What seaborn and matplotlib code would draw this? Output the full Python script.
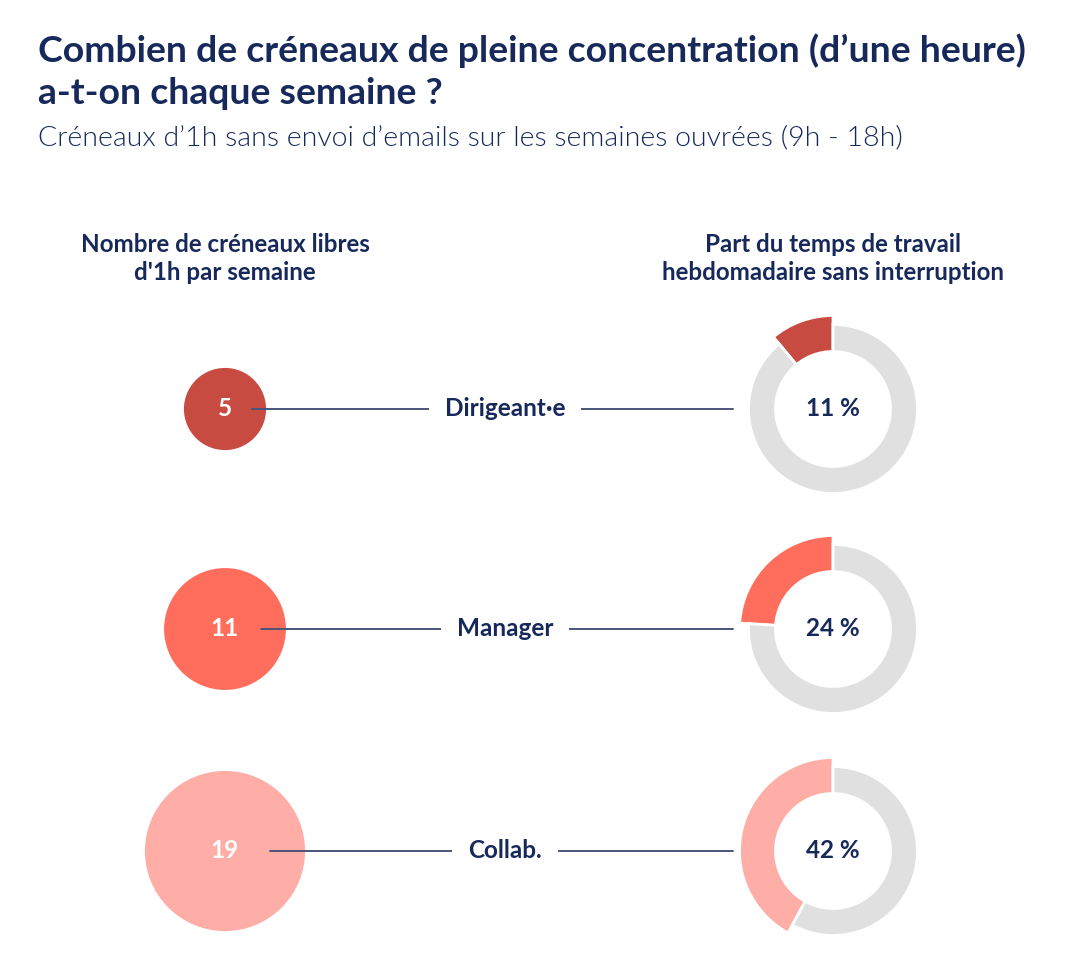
import numpy as np
import pandas as pd
import matplotlib
matplotlib.use("Agg")
import matplotlib.pyplot as plt
from matplotlib import font_manager as fm
import seaborn as sns

# data
roles = ["Dirigeant·e", "Manager", "Collab."]
slots = [5, 11, 19]          # créneaux libres d'1h par semaine
share = [11, 24, 42]         # % du temps de travail sans interruption
palette = ["#C84B42", "#FF6E5D", "#FFAEA7"]

title_lines = ["Combien de créneaux de pleine concentration (d’une heure)",
               "a-t-on chaque semaine ?"]
subtitle = "Créneaux d’1h sans envoi d’emails sur les semaines ouvrées (9h - 18h)"
head_left = ["Nombre de créneaux libres", "d'1h par semaine"]
head_right = ["Part du temps de travail", "hebdomadaire sans interruption"]

NAVY = "#16295A"
LINE = "#4A5579"
GREY = "#E0E0E0"

# layout (pixels, y measured from top)
W, H = 1076, 974
row_px = [409, 629, 851]
x_bubble, x_label, x_donut, x_line_end = 225, 505, 833, 733
r_ring, w_ring, r_hi = 84.5, 27, 93.5

sns.set_theme(style="white")
plt.rcParams["font.family"] = ["Lato", "DejaVu Sans"]

# Lato Light for the subtitle, picked by file so it is not the hairline cut
light_files = [f.fname for f in fm.fontManager.ttflist
               if f.fname.split("/")[-1].lower().startswith("lato-light.")]
if light_files:
    light = fm.FontProperties(fname=light_files[0], size=20.5)
else:
    light = fm.FontProperties(family="Lato", weight="light", size=20.5)

fig = plt.figure(figsize=(W / 100, H / 100), dpi=100)
ax = fig.add_axes([0, 0, 1, 1])

df = pd.DataFrame({"role": roles, "slots": slots, "share": share,
                   "x": x_bubble, "y": [H - p for p in row_px]})

# bubble area proportional to number of slots
s_min = 3500
s_max = s_min * max(slots) / min(slots)
sns.scatterplot(data=df, x="x", y="y", hue="role", hue_order=roles, palette=palette,
                size="slots", sizes=(s_min, s_max), linewidth=0, legend=False,
                ax=ax, zorder=2)

for i, row in df.iterrows():
    y = row["y"]
    s = s_min + (row["slots"] - min(slots)) / (max(slots) - min(slots)) * (s_max - s_min)
    r = np.sqrt(s) / 0.72 / 2
    ax.text(x_bubble, y, str(row["slots"]), ha="center", va="center", color="white",
            fontsize=17.5, fontweight="bold", zorder=4)
    ax.plot([x_bubble + 9 + 0.45 * r, x_line_end], [y, y], color=LINE, lw=1.4, zorder=3)
    ax.text(x_label, y, row["role"], ha="center", va="center", color=NAVY,
            fontsize=17.5, fontweight="bold", zorder=4,
            bbox=dict(boxstyle="square,pad=0.65", fc="white", ec="none"))

    # donut, highlighted part drawn thicker on the outside
    wedges, _ = ax.pie([row["share"], 100 - row["share"]], colors=[palette[i], GREY],
                       startangle=90, counterclock=True, radius=r_ring,
                       center=(x_donut, y), frame=True,
                       wedgeprops=dict(width=w_ring, edgecolor="white", linewidth=2))
    wedges[0].set_radius(r_hi)
    wedges[0].set_width(w_ring + r_hi - r_ring)
    ax.text(x_donut, y, f"{row['share']} %", ha="center", va="center", color=NAVY,
            fontsize=17.5, fontweight="bold", zorder=4)

for k, line in enumerate(title_lines):
    ax.text(38, H - 62 - 42 * k, line, ha="left", va="baseline", color=NAVY,
            fontsize=26.9, fontweight="bold")
ax.text(38, H - 145, subtitle, ha="left", va="baseline", color=NAVY, fontproperties=light)
for k in range(2):
    ax.text(x_bubble, H - 245 - 28 * k, head_left[k], ha="center", va="center",
            color=NAVY, fontsize=17.4, fontweight="bold")
    ax.text(x_donut, H - 245 - 28 * k, head_right[k], ha="center", va="center",
            color=NAVY, fontsize=17.4, fontweight="bold")

ax.set_xlim(0, W)
ax.set_ylim(0, H)
ax.axis("off")
fig.savefig("out.png", dpi=100)
